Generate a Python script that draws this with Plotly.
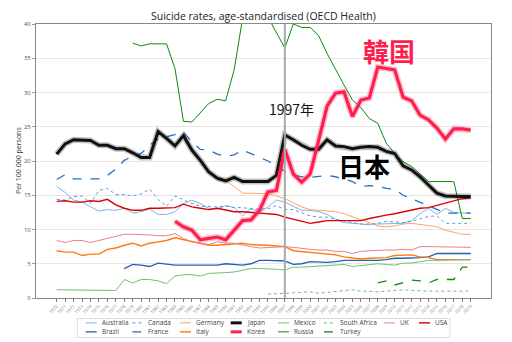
import plotly.graph_objects as go

years = list(range(1970, 2020))
N = None

australia = [16.3, 15.4, 14.3, 14.0, 13.3, 12.7, 12.9, 12.8, 13.1, 12.4, 12.6, 13.0, 12.2, 12.2, 12.6, 13.8, 14.3, 13.8, 13.1, 13.0, 13.5, 13.2, 12.0, 13.1, 12.5,
             13.3, 14.3, 14.0, 13.4, 12.8, 12.8, 12.6, 12.2, 11.5, 11.0, 10.9, 10.7, 10.7, 10.8, 10.8, 10.9, 10.9, 11.3, 12.3, 13.1, 12.2, 13.1, 12.5, 12.4, 12.4]
canada = [14.4, 14.3, 14.8, 14.9, 13.8, 15.7, 16.0, 15.1, 15.1, 14.9, 15.2, 15.9, 14.4, 13.4, 14.9, 14.3, 13.8, 13.4, 13.3, 13.3, 13.4, 13.2, 13.2, 13.0, 13.0,
          13.0, 13.5, 12.9, 12.9, 12.4, 12.0, 11.8, 11.8, 11.5, 11.3, 11.0, 10.8, 10.8, 10.9, 11.2, 11.1, 11.0, 11.2, 11.5, 11.9, 12.0, 10.9, 10.9, 10.9, 10.9]
brazil = [N] * 8 + [4.3, 4.9, 4.8, 4.6, 5.1, 4.9, 4.8, 4.8, 4.8, 4.8, 4.8, 4.8, 5.0, 4.9, 4.8, 5.0, 5.5,
                    5.5, 5.5, 5.4, 4.9, 5.0, 5.3, 5.2, 5.2, 5.3, 5.5, 5.5, 5.5, 5.4, 5.5, 5.6, 5.8, 5.8, 5.8, 5.9, 6.0, 6.5, 6.5, 6.5, 6.5, 6.5]
france = [17.3, 18.0, 17.4, 17.4, 17.4, 17.4, 17.9, 18.8, 20.1, 20.7, 21.1, 22.3, 23.2, 23.5, 23.8, 24.2, 22.8, 21.7, 21.6, 21.0, 20.7, 20.9, 21.6, 21.1, 20.6,
          20.0, 19.3, 18.5, 18.0, 17.7, 17.6, 17.8, 17.9, 17.7, 17.4, 17.0, 16.3, 16.4, 16.3, 16.0, 15.9, 15.0, 14.5, 14.0, 13.4, 12.9, 12.4, 12.4, 12.4, 12.4]
germany = [N] * 19 + [17.2, 17.1, 16.3, 15.3, 15.3, 15.3,
                      15.2, 14.9, 14.5, 13.9, 13.3, 12.9, 12.8, 12.7, 12.6, 12.3, 11.9, 11.5, 11.0, 10.5, 10.4, 10.5, 10.8, 10.9, 10.7, 10.6, 10.4, 9.9, 9.6, 9.3, 9.3]
italy = [6.9, 6.7, 6.7, 6.2, 6.4, 6.4, 7.1, 7.3, 7.7, 8.0, 7.6, 8.0, 8.2, 8.4, 8.8, 8.5, 8.2, 7.9, 7.7, 7.7, 7.8, 7.9, 8.0, 7.8, 7.8,
         7.7, 7.6, 7.5, 6.9, 6.8, 6.6, 6.6, 6.5, 6.3, 6.0, 5.8, 5.7, 5.8, 5.8, 5.9, 6.2, 6.3, 6.3, 6.0, 5.9, 5.6, 5.6, 5.6, 5.6, 5.6]
japan = [21.0, 22.5, 23.1, 23.1, 23.0, 22.3, 22.3, 21.8, 21.8, 21.2, 20.5, 20.5, 24.3, 23.3, 22.2, 23.7, 21.6, 20.1, 18.4, 17.5, 17.1, 17.6, 17.0, 17.0, 17.0,
         17.0, 17.9, 23.8, 23.1, 22.3, 21.7, 21.7, 23.1, 22.2, 22.1, 21.8, 22.0, 22.1, 22.0, 21.4, 21.1, 19.3, 18.7, 17.7, 16.5, 15.3, 14.9, 14.8, 14.8, 14.8]
korea = [N] * 14 + [11.2, 10.4, 9.9, 8.5, 8.7, 8.9, 8.5, 9.9, 11.3, 11.4, 12.8, 15.5, 15.7, 21.7, 18.1, 16.9, 18.1, 23.0,
                    28.0, 29.9, 30.1, 26.5, 28.9, 29.2, 33.7, 33.5, 33.3, 29.3, 28.8, 26.7, 26.0, 24.8, 23.2, 24.7, 24.7, 24.5]
mexico = [1.2, 1.2, 1.1, 1.1, 1.1, 1.1, 1.1, 1.1, 2.7, 2.2, 2.7, 2.7, 2.5, 2.1, 3.2, 3.4, 3.4, 3.2, 3.6, 3.6, 3.7, 3.8, 4.0, 4.3, 4.3,
          4.3, 4.2, 4.1, 4.5, 4.5, 4.6, 4.6, 4.7, 4.8, 4.9, 4.6, 4.7, 4.9, 5.0, 4.9, 4.8, 5.1, 5.1, 5.3, 5.5, 5.5, 5.5, 5.6, 5.6, 5.6]
russia = [N] * 9 + [37.2, 36.8, 37.1, 37.1, 37.1, 33.5, 25.8, 25.7, 27.0, 28.4, 29.0, 28.8, 33.3, 40.8, 42.5, 42.0, 41.0, 38.7, 36.5,
                    40.0, 39.5, 39.5, 38.3, 35.7, 33.3, 31.1, 28.9, 27.8, 26.2, 25.5, 22.6, 21.1, 19.9, 19.2, 18.1, 17.0, 17.0, 17.0, 17.0, 11.6, 11.6]
south_africa = [N] * 25 + [0.55, 0.6, 0.7, 0.8, 0.8, 0.9, 0.7, 0.8, 1.0, 1.1, 1.2, 1.0, 0.9, 0.9, 1.0, 1.1, 1.2, 1.1, 1.0, 1.0, 1.0, 1.0, 1.0, 1.0, 1.0]
turkey = [N] * 38 + [2.2, 2.5, 1.9, 2.2, 2.6, 2.5, 2.2, 2.7, 2.7, 2.7, 4.5, 4.5]
uk = [8.4, 8.1, 8.4, 8.4, 8.1, 8.4, 8.7, 8.9, 9.3, 9.3, 9.3, 9.2, 9.1, 9.1, 9.4, 8.7, 8.2, 8.0, 7.8, 8.2, 8.0, 8.0, 7.7, 7.5, 7.3,
      7.4, 7.4, 7.5, 7.4, 7.2, 7.1, 7.0, 7.0, 6.8, 6.8, 6.5, 6.8, 6.9, 7.0, 7.0, 7.0, 7.1, 7.0, 7.5, 7.5, 7.5, 7.4, 7.4, 7.4, 7.4]
usa = [14.1, 14.2, 14.0, 14.0, 14.2, 14.1, 14.4, 13.6, 13.1, 12.8, 12.8, 13.1, 13.1, 13.2, 13.2, 13.7, 13.3, 13.1, 12.9, 13.1, 12.8, 12.6, 12.6, 12.5, 12.4,
       12.3, 12.2, 11.8, 11.5, 11.1, 10.9, 11.1, 11.3, 11.3, 11.3, 11.4, 11.3, 11.6, 11.9, 12.1, 12.3, 12.6, 12.8, 13.1, 13.2, 13.5, 13.9, 14.1, 14.5, 14.6]

y_ticks = [0, 5, 10, 15, 20, 25, 30, 35, 40]
crisis_year = 1997

# name, data, color, width, dash, legend column, legend row
series = [
    ("Australia", australia, "#7fb2e5", 1.0, "solid", 0, 0),
    ("Brazil", brazil, "#1f63b5", 1.3, "solid", 0, 1),
    ("Canada", canada, "#5b9ad8", 1.0, "dot", 1, 0),
    ("France", france, "#2a6fbd", 1.3, "dash", 1, 1),
    ("Germany", germany, "#ffa466", 1.0, "solid", 2, 0),
    ("Italy", italy, "#ff7a10", 1.4, "solid", 2, 1),
    ("Mexico", mexico, "#70c070", 1.0, "solid", 4, 0),
    ("Russia", russia, "#0a8a0a", 1.0, "solid", 4, 1),
    ("South Africa", south_africa, "#70c070", 1.0, "dot", 5, 0),
    ("Turkey", turkey, "#118811", 1.3, "dash", 5, 1),
    ("UK", uk, "#ee7f7f", 1.0, "solid", 6, 0),
    ("USA", usa, "#dd0000", 1.4, "solid", 7, 0),
    ("Japan", japan, "#111111", 3.0, "solid", 3, 0),
    ("Korea", korea, "#ff1f4f", 3.2, "solid", 3, 1),
]

fig = go.Figure()
for name, data, color, width, dash, col, row in series:
    if name in ("Japan", "Korea"):
        fig.add_trace(go.Scatter(x=years, y=data, mode="lines", showlegend=False, hoverinfo="skip",
                                 line=dict(color=color, width=width + 3), opacity=0.25))
    fig.add_trace(go.Scatter(x=years, y=data, mode="lines", name=name, showlegend=False,
                             line=dict(color=color, width=width, dash=dash)))

# pixel -> paper helpers
L, R, T, B = 36, 491, 23.5, 297.8
def px(x):
    return (x - L) / (R - L)
def py(y):
    return (B - y) / (B - T)

shapes = [
    dict(type="line", xref="x", yref="y", x0=crisis_year, x1=crisis_year, y0=0, y1=40,
         line=dict(color="#aaaaaa", width=2)),
    dict(type="rect", xref="paper", yref="paper", x0=px(77.3), x1=px(450), y0=py(318.3), y1=py(337.3),
         line=dict(color="#dddddd", width=1), fillcolor="rgba(255,255,255,0)"),
]
annotations = []
col_x = [85.7, 132.3, 180, 230.7, 278, 324, 384, 419]
row_y = [322.7, 331.7]
for name, data, color, width, dash, col, row in series:
    x0 = col_x[col]
    yy = row_y[row]
    shapes.append(dict(type="line", xref="paper", yref="paper", x0=px(x0), x1=px(x0 + 11), y0=py(yy), y1=py(yy),
                       line=dict(color=color, width=min(width, 3), dash=dash)))
    annotations.append(dict(xref="paper", yref="paper", x=px(x0 + 14), y=py(yy), text=name, showarrow=False,
                            xanchor="left", yanchor="middle", font=dict(size=6.5, color="#444444")))

annotations += [
    dict(xref="paper", yref="paper", x=px(263.5), y=py(15), text="Suicide rates, age-standardised (OECD Health)",
         showarrow=False, xanchor="center", yanchor="middle", font=dict(size=10.5, color="#222222")),
    dict(xref="paper", yref="paper", x=px(389), y=py(50), text="<b>韓国</b>", showarrow=False,
         xanchor="center", yanchor="middle", font=dict(size=26, color="#ff1f4f", family="Noto Sans CJK JP")),
    dict(xref="paper", yref="paper", x=px(364), y=py(165), text="<b>日本</b>", showarrow=False,
         xanchor="center", yanchor="middle", font=dict(size=26, color="#000000", family="Noto Sans CJK JP")),
    dict(xref="paper", yref="paper", x=px(291), y=py(109), text="1997年", showarrow=False,
         xanchor="center", yanchor="middle", font=dict(size=14, color="#111111", family="Noto Sans CJK JP")),
    dict(xref="paper", yref="paper", x=px(18), y=0.5, text="Per 100 000 persons", showarrow=False, textangle=-90,
         xanchor="center", yanchor="middle", font=dict(size=7, color="#333333")),
]

fig.update_layout(
    width=512, height=342,
    margin=dict(l=L, r=512 - R, t=T, b=342 - B),
    paper_bgcolor="white", plot_bgcolor="white",
    font=dict(family="Open Sans", color="#444444"),
    shapes=shapes, annotations=annotations,
    showlegend=False,
)
fig.update_xaxes(range=[1967.55, 2021.4], tickmode="array", tickvals=years, ticktext=[str(y) for y in years],
                 tickangle=-45, tickfont=dict(size=4.5, color="#888888"), ticks="outside", ticklen=3,
                 tickcolor="#777777", showgrid=False, showline=True, linecolor="#888888", linewidth=1,
                 mirror=True, zeroline=False)
fig.update_yaxes(range=[0, 40], tickvals=y_ticks, tickfont=dict(size=6, color="#555555"), ticks="outside",
                 ticklen=3, tickcolor="#999999", showgrid=True, gridcolor="#e6e6e6", showline=True,
                 linecolor="#888888", linewidth=1, mirror=True, zeroline=False)

fig.write_html("out.html")
